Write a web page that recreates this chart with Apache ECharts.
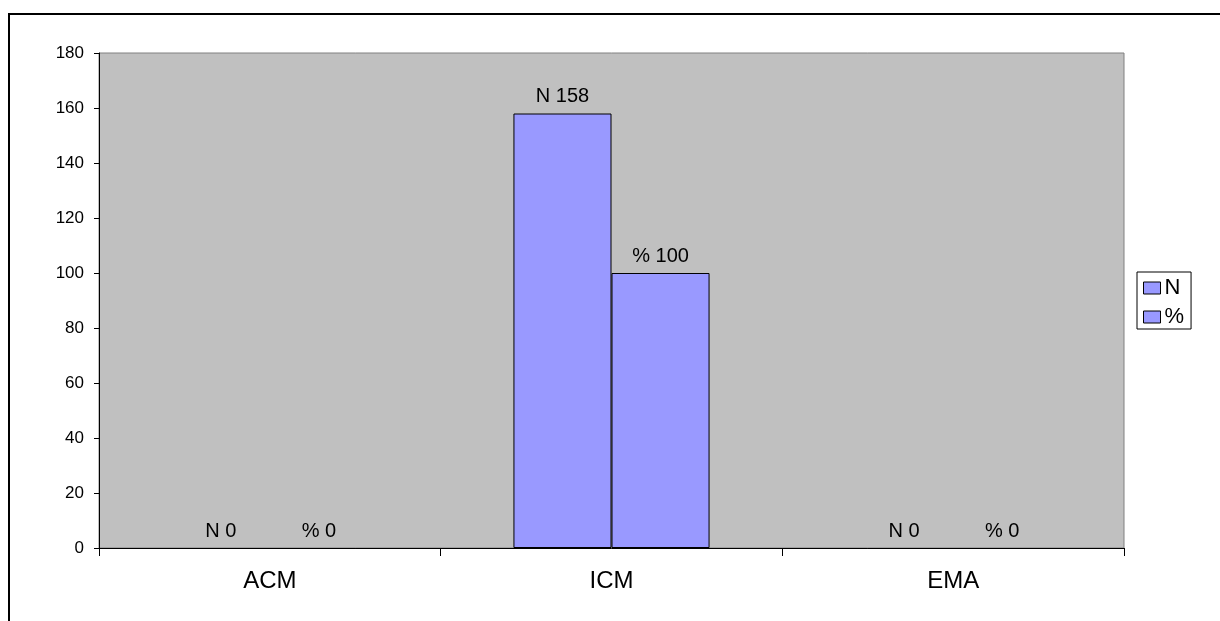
<!DOCTYPE html>
<html><head><meta charset="utf-8">
<script src="https://cdn.jsdelivr.net/npm/echarts@6/dist/echarts.min.js"></script>
<style>html,body{margin:0;padding:0;background:#fff}#c{width:1220px;height:621px}</style>
</head><body><div id="c"></div>
<script>
var categories = ['ACM', 'ICM', 'EMA'];
var seriesNames = ['N', '%'];
var valuesN = [0, 158, 0];
var valuesPct = [0, 100, 0];
var yTicks = {min: 0, max: 180, interval: 20};

var chart = echarts.init(document.getElementById('c'));
var font = '"Liberation Sans", Arial, sans-serif';
function mk(name, data) {
  return {
    name: name, type: 'bar',
    data: data.map(function (v) {
      return v === 0 ? {value: v, itemStyle: {borderWidth: 0}} : v;
    }),
    barGap: '0%', barCategoryGap: '42.6%',
    itemStyle: {color: '#9999FF', borderColor: '#000', borderWidth: 1},
    label: {show: true, position: 'top', distance: 7, color: '#000', fontFamily: font, fontSize: 20,
      formatter: function (p) { return name + ' ' + p.value; }}
  };
}
chart.setOption({
  animation: false,
  backgroundColor: '#fff',
  graphic: [{type: 'rect', shape: {x: 9, y: 14, width: 1400, height: 800},
    style: {fill: 'none', stroke: '#000', lineWidth: 2}, z: 100}],
  grid: {left: 99, right: 96, top: 53, bottom: 73, show: true, backgroundColor: '#C0C0C0',
    borderColor: '#808080', borderWidth: 1},
  legend: {
    data: seriesNames, orient: 'vertical', left: 1137, top: 272,
    itemWidth: 17, itemHeight: 12, itemGap: 7, icon: 'rect',
    padding: [5, 7, 1, 6], borderColor: '#000', borderWidth: 1,
    itemStyle: {borderColor: '#000', borderWidth: 1},
    textStyle: {fontFamily: font, fontSize: 22, color: '#000', padding: [0, 0, 0, -1]}
  },
  xAxis: {
    type: 'category', data: categories,
    axisLine: {lineStyle: {color: '#000', width: 1}},
    axisTick: {show: true, length: 8, lineStyle: {color: '#000'}},
    axisLabel: {margin: 21, fontFamily: font, fontSize: 24, color: '#000'}
  },
  yAxis: {
    type: 'value', min: yTicks.min, max: yTicks.max, interval: yTicks.interval,
    axisLine: {show: true, lineStyle: {color: '#000', width: 1}},
    axisTick: {show: true, length: 5, lineStyle: {color: '#000'}},
    splitLine: {show: false},
    axisLabel: {margin: 15, fontFamily: font, fontSize: 17, color: '#000'}
  },
  series: [mk(seriesNames[0], valuesN), mk(seriesNames[1], valuesPct)]
});
</script></body></html>
